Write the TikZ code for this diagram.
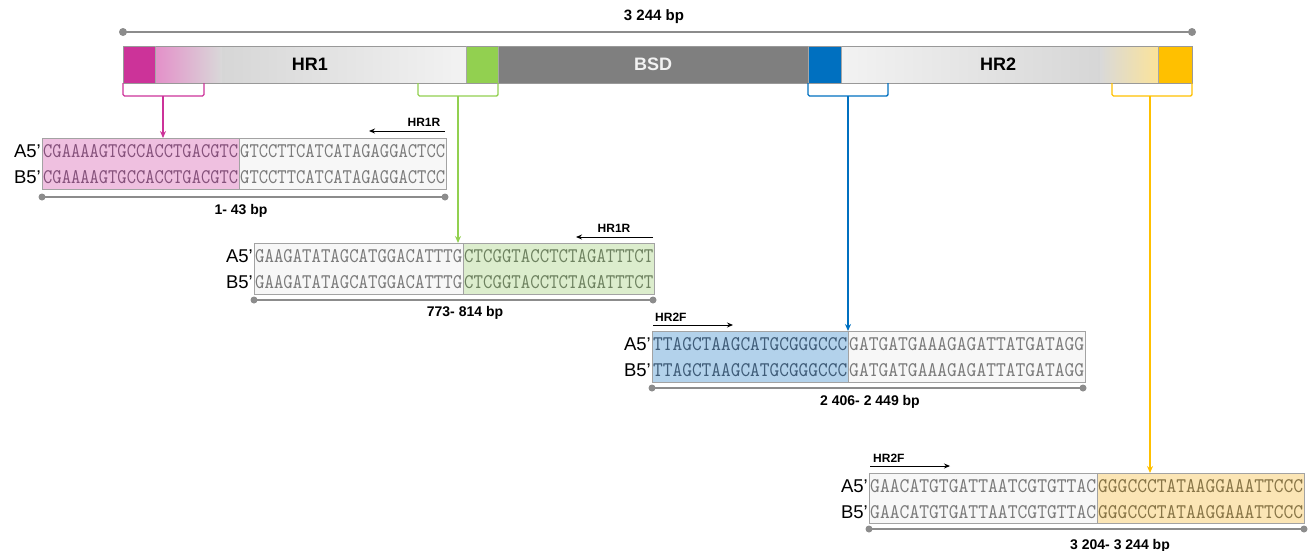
\documentclass[tikz,border=0pt]{standalone}
\usepackage{graphicx}
\usepackage{fontspec}
\setmainfont{Liberation Sans}
\usetikzlibrary{arrows.meta}
\definecolor{cmag}{HTML}{CC3399}
\definecolor{cmagl}{HTML}{E48FC9}
\definecolor{cgrn}{HTML}{92D050}
\definecolor{cblu}{HTML}{0070C0}
\definecolor{cyel}{HTML}{FFC000}
\definecolor{cyell}{HTML}{FBE39A}
\definecolor{cbsd}{HTML}{7F7F7F}
\definecolor{sgray}{HTML}{8C8C8C}
\definecolor{fpink}{HTML}{EFC0E0}
\definecolor{fgrn}{HTML}{DCEDCD}
\definecolor{fblu}{HTML}{B3D2EB}
\definecolor{fyel}{HTML}{FBE5B5}
\definecolor{fwht}{HTML}{F7F7F7}
\definecolor{tgray}{HTML}{7A7A7A}
\definecolor{tpink}{HTML}{85517B}
\definecolor{tgrn}{HTML}{6E8260}
\definecolor{tblu}{HTML}{3F5C78}
\definecolor{tyel}{HTML}{877446}
\newcommand{\sqt}[2]{\resizebox{#1pt}{13pt}{\ttfamily #2}}
\tikzset{
  seqbox/.style={draw=sgray!80, line width=0.8pt, anchor=north west, inner sep=0pt, fill=none},
  seqlbl/.style={anchor=east, inner sep=1pt, font=\fontsize{18.5}{18.5}\selectfont},
  seqtx/.style={anchor=west, inner sep=0pt},
  rnglbl/.style={font=\bfseries\fontsize{14}{14}\selectfont, inner sep=0pt},
  primlbl/.style={font=\bfseries\fontsize{12}{12}\selectfont, inner sep=0pt},
  primarr/.style={-{Stealth[length=6pt,width=5pt]}, line width=0.9pt},
  scaleln/.style={draw=sgray, line width=1.8pt},
  brk/.style={line width=1.4pt, rounded corners=1.5pt},
  pointer/.style={line width=1.4pt, -{Stealth[length=7pt,width=6pt]}},
  barlbl/.style={font=\bfseries\fontsize{18}{18}\selectfont, inner sep=0pt},
}
\begin{document}
\begin{tikzpicture}[x=1pt,y=-1pt]
\useasboundingbox (0,0) rectangle (1311,550);
% ---- top scale
\coordinate (tl) at (123,32);
\coordinate (tr) at (1192,32);
\draw[scaleln] (tl) -- (tr);
\fill[sgray] (tl) circle[radius=4pt] (tr) circle[radius=4pt];
\node[font=\bfseries\fontsize{15}{15}\selectfont, inner sep=0pt] (tot) at (654,17) {3 244 bp};
% ---- main bar
\fill[cmag] (123,46) rectangle (155,83);
\shade[left color=cmagl, right color=black!15] (155,46) rectangle (222,83);
\shade[left color=black!16, right color=black!5] (222,46) rectangle (466,83);
\fill[cgrn] (466,46) rectangle (498,83);
\fill[cbsd] (498,46) rectangle (808,83);
\fill[cblu] (808,46) rectangle (841,83);
\shade[left color=black!5, right color=black!16] (841,46) rectangle (1100,83);
\shade[left color=black!15, right color=cyell] (1100,46) rectangle (1158,83);
\fill[cyel] (1158,46) rectangle (1192,83);
\node[draw=black!40, line width=0.8pt, anchor=north west, minimum width=1069pt, minimum height=37pt, inner sep=0pt] (bar) at (123,46) {};
\foreach \xx in {155,466,498,808,841,1158} \draw[black!35, line width=0.6pt] (\xx,46) -- (\xx,83);
\node[barlbl] (hr1) at (310,64) {HR1};
\node[barlbl, text=white!95!black] (bsd) at (653,64) {BSD};
\node[barlbl] (hr2) at (998,64) {HR2};
% ---- brackets
\draw[brk, cmag] (123,83) -- (123,96) -- (204,96) -- (204,83);
\draw[brk, cgrn] (418,83) -- (418,96) -- (498,96) -- (498,83);
\draw[brk, cblu] (808,83) -- (808,96) -- (888,96) -- (888,83);
\draw[brk, cyel] (1112,83) -- (1112,96) -- (1192,96) -- (1192,83);
\coordinate (s1) at (163,96);
\coordinate (s2) at (458,96);
\coordinate (s3) at (848,96);
\coordinate (s4) at (1150,96);

% ---- box 1
\fill[fpink] (42,138) rectangle (239,189);
\fill[fwht] (239,138) rectangle (446,189);
\draw[sgray!80, line width=0.8pt] (239,138) -- (239,189);
\node[seqbox, minimum width=404pt, minimum height=51pt] (b1) at (42,138) {};
\node[seqtx, text=tpink] (b1a1) at (43,151) {\sqt{195}{CGAAAAGTGCCACCTGACGTC}};
\node[seqtx, text=tgray] (b1a2) at (240,151) {\sqt{205}{GTCCTTCATCATAGAGGACTCC}};
\node[seqtx, text=tpink] (b1b1) at (43,177) {\sqt{195}{CGAAAAGTGCCACCTGACGTC}};
\node[seqtx, text=tgray] (b1b2) at (240,177) {\sqt{205}{GTCCTTCATCATAGAGGACTCC}};
\node[seqlbl] (l1a) at (42,151) {A5’};
\node[seqlbl] (l1b) at (42,177) {B5’};
\coordinate (r1l) at (42,197);
\coordinate (r1r) at (445,197);
\draw[scaleln] (r1l) -- (r1r);
\fill[sgray] (r1l) circle[radius=3.5pt] (r1r) circle[radius=3.5pt];
\node[rnglbl] (g1) at (241,211) {1- 43 bp};
\coordinate (p1s) at (445,131);
\coordinate (p1e) at (369,131);
\draw[primarr] (p1s) -- (p1e);
\node[primlbl] (p1) at (424,122) {HR1R};
\draw[pointer, cmag] (s1) -- (s1 |- b1.north);

% ---- box 2
\fill[fwht] (254,243) rectangle (463,294);
\fill[fgrn] (463,243) rectangle (654,294);
\draw[sgray!80, line width=0.8pt] (463,243) -- (463,294);
\node[seqbox, minimum width=400pt, minimum height=51pt] (b2) at (254,243) {};
\node[seqtx, text=tgray] at (255,256) {\sqt{207}{GAAGATATAGCATGGACATTTG}};
\node[seqtx, text=tgrn] at (464,256) {\sqt{189}{CTCGGTACCTCTAGATTTCT}};
\node[seqtx, text=tgray] at (255,282) {\sqt{207}{GAAGATATAGCATGGACATTTG}};
\node[seqtx, text=tgrn] at (464,282) {\sqt{189}{CTCGGTACCTCTAGATTTCT}};
\node[seqlbl] (l2a) at (254,256) {A5’};
\node[seqlbl] (l2b) at (254,282) {B5’};
\coordinate (r2l) at (254,300);
\coordinate (r2r) at (653,300);
\draw[scaleln] (r2l) -- (r2r);
\fill[sgray] (r2l) circle[radius=3.5pt] (r2r) circle[radius=3.5pt];
\node[rnglbl] (g2) at (465,313) {773- 814 bp};
\coordinate (p2s) at (653,237);
\coordinate (p2e) at (576,237);
\draw[primarr] (p2s) -- (p2e);
\node[primlbl] (p2) at (614,228) {HR1R};
\draw[pointer, cgrn] (s2) -- (s2 |- b2.north);

% ---- box 3
\fill[fblu] (652,331) rectangle (848,382);
\fill[fwht] (848,331) rectangle (1085,382);
\draw[sgray!80, line width=0.8pt] (848,331) -- (848,382);
\node[seqbox, minimum width=433pt, minimum height=51pt] (b3) at (652,331) {};
\node[seqtx, text=tblu] at (653,344) {\sqt{194}{TTAGCTAAGCATGCGGGCCC}};
\node[seqtx, text=tgray] at (849,344) {\sqt{235}{GATGATGAAAGAGATTATGATAGG}};
\node[seqtx, text=tblu] at (653,370) {\sqt{194}{TTAGCTAAGCATGCGGGCCC}};
\node[seqtx, text=tgray] at (849,370) {\sqt{235}{GATGATGAAAGAGATTATGATAGG}};
\node[seqlbl] (l3a) at (652,344) {A5’};
\node[seqlbl] (l3b) at (652,370) {B5’};
\coordinate (r3l) at (652,388);
\coordinate (r3r) at (1083,388);
\draw[scaleln] (r3l) -- (r3r);
\fill[sgray] (r3l) circle[radius=3.5pt] (r3r) circle[radius=3.5pt];
\node[rnglbl] (g3) at (870,402) {2 406- 2 449 bp};
\coordinate (p3s) at (653,325);
\coordinate (p3e) at (733,325);
\draw[primarr] (p3s) -- (p3e);
\node[primlbl, anchor=west] (p3) at (655,317) {HR2F};
\draw[pointer, cblu] (s3) -- (s3 |- b3.north);

% ---- box 4
\fill[fwht] (869,473) rectangle (1097,523);
\fill[fyel] (1097,473) rectangle (1304,523);
\draw[sgray!80, line width=0.8pt] (1097,473) -- (1097,523);
\node[seqbox, minimum width=435pt, minimum height=50pt] (b4) at (869,473) {};
\node[seqtx, text=tgray] at (870,486) {\sqt{226}{GAACATGTGATTAATCGTGTTAC}};
\node[seqtx, text=tyel] at (1098,486) {\sqt{205}{GGGCCCTATAAGGAAATTCCC}};
\node[seqtx, text=tgray] at (870,512) {\sqt{226}{GAACATGTGATTAATCGTGTTAC}};
\node[seqtx, text=tyel] at (1098,512) {\sqt{205}{GGGCCCTATAAGGAAATTCCC}};
\node[seqlbl] (l4a) at (869,486) {A5’};
\node[seqlbl] (l4b) at (869,512) {B5’};
\coordinate (r4l) at (869,529);
\coordinate (r4r) at (1304,529);
\draw[scaleln] (r4l) -- (r4r);
\fill[sgray] (r4l) circle[radius=3.5pt] (r4r) circle[radius=3.5pt];
\node[rnglbl] (g4) at (1120,546) {3 204- 3 244 bp};
\coordinate (p4s) at (870,466);
\coordinate (p4e) at (950,466);
\draw[primarr] (p4s) -- (p4e);
\node[primlbl, anchor=west] (p4) at (873,458) {HR2F};
\draw[pointer, cyel] (s4) -- (s4 |- b4.north);
\end{tikzpicture}
\end{document}
